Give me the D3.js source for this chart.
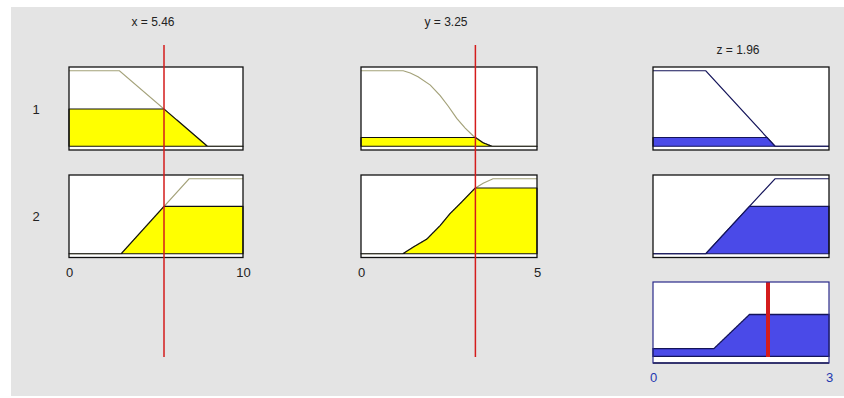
<!DOCTYPE html>
<html>
<head>
<meta charset="utf-8">
<script src="https://cdn.jsdelivr.net/npm/d3@7"></script>
<style>
  html, body { margin: 0; padding: 0; background: #ffffff; }
  svg { display: block; }
  text { font-family: "Liberation Sans", Arial, sans-serif; }
</style>
</head>
<body>
<svg id="viewer" width="844" height="398"></svg>
<script>
// Fuzzy inference rule viewer: two inputs (x, y), one output (z), two rules.

const inputNames = ["x", "y"];
const inputRanges = [[0, 10], [0, 5]];
const inputValues = [5.46, 3.25];
const inputTicks = [[0, 10], [0, 5]];

const outputName = "z";
const outputRange = [0, 3];
const outputValue = 1.96;
const outputTicks = [0, 3];

const ruleLabels = ["1", "2"];

// membership functions as [value, degree] breakpoints
const xMf1 = [[0, 1], [2.9, 1], [7.95, 0], [10, 0]];
const xMf2 = [[0, 0], [3.0, 0], [6.9, 1], [10, 1]];
const yMf1 = [[0, 1], [1.2, 1], [1.4, 0.97], [1.62, 0.92], [1.97, 0.81], [2.25, 0.67],
              [2.48, 0.53], [2.72, 0.37], [2.96, 0.24], [3.19, 0.135], [3.47, 0.045],
              [3.72, 0], [5, 0]];
const yMf2 = [[0, 0], [1.19, 0], [1.49, 0.09], [1.87, 0.195], [2.25, 0.376], [2.53, 0.535],
              [2.82, 0.67], [3.10, 0.806], [3.24, 0.874], [3.47, 0.94], [3.75, 1], [5, 1]];
const zMf1 = [[0, 1], [0.9, 1], [2.08, 0], [3, 0]];
const zMf2 = [[0, 0], [0.9, 0], [2.08, 1], [3, 1]];

// rule table: antecedent MFs per input, consequent MF
const ruleInputs = [[xMf1, yMf1], [xMf2, yMf2]];
const ruleOutputs = [zMf1, zMf2];

const svg = d3.select("#viewer");

const colInputFill = "#ffff00";
const colInputLine = "#a4a27a";
const colOutFill = "#4a4ae8";
const colOutLine = "#14145a";
const colCursor = "#d41c1c";

// panel frame
svg.append("rect").attr("x", 11).attr("y", 7).attr("width", 833).attr("height", 389)
  .attr("fill", "#e4e4e4");

const colX = [
  d3.scaleLinear().domain(inputRanges[0]).range([69, 243]),
  d3.scaleLinear().domain(inputRanges[1]).range([361, 537])
];
const zScale = d3.scaleLinear().domain(outputRange).range([653, 829]);

const rowBoxes = [[67, 150], [175, 257.5]];
const rowScales = rowBoxes.map(b => d3.scaleLinear().domain([-0.05, 1.05]).range([b[1], b[0]]));
const aggBox = [282, 363];
const aggScale = d3.scaleLinear().domain([-0.1, 1.12]).range([aggBox[1], aggBox[0]]);

function interp(mf, v) {
  if (v <= mf[0][0]) return mf[0][1];
  for (let i = 1; i < mf.length; i++) {
    if (v <= mf[i][0]) {
      const [x0, y0] = mf[i - 1], [x1, y1] = mf[i];
      return x1 === x0 ? y1 : y0 + (y1 - y0) * (v - x0) / (x1 - x0);
    }
  }
  return mf[mf.length - 1][1];
}

// sample positions: breakpoints of every MF plus a fine grid across the range
function samplePositions(range, mfs) {
  const s = new Set();
  const n = 600;
  for (let i = 0; i <= n; i++) s.add(range[0] + (range[1] - range[0]) * i / n);
  mfs.forEach(mf => mf.forEach(p => s.add(p[0])));
  return Array.from(s).sort((a, b) => a - b);
}

function areaPath(xs, fn, xScale, yScale) {
  const pts = xs.map(v => [v, fn(v)]);
  const full = [[xs[0], 0], ...pts, [xs[xs.length - 1], 0]];
  return d3.line().x(d => xScale(d[0])).y(d => yScale(d[1]))(full) + "Z";
}

function frame(x0, x1, box) {
  svg.append("rect").attr("x", x0).attr("y", box[0]).attr("width", x1 - x0)
    .attr("height", box[1] - box[0]).attr("fill", "#ffffff");
}
function border(x0, x1, box) {
  svg.append("rect").attr("x", x0).attr("y", box[0]).attr("width", x1 - x0)
    .attr("height", box[1] - box[0]).attr("fill", "none")
    .attr("stroke", "#111111").attr("stroke-width", 1.3);
}

// firing strengths (min of antecedent degrees)
const degrees = ruleInputs.map(mfs => mfs.map((mf, j) => interp(mf, inputValues[j])));
const strengths = degrees.map(d => d3.min(d));

// input panels
ruleInputs.forEach((mfs, r) => {
  mfs.forEach((mf, j) => {
    const xs = colX[j];
    const ys = rowScales[r];
    const [a, b] = xs.range();
    frame(a, b, rowBoxes[r]);
    const level = degrees[r][j];
    const pos = samplePositions(inputRanges[j], [mf]);
    svg.append("path")
      .attr("d", d3.line().x(d => xs(d[0])).y(d => ys(d[1]))(mf))
      .attr("fill", "none").attr("stroke", colInputLine).attr("stroke-width", 1.2);
    svg.append("path")
      .attr("d", areaPath(pos, v => Math.min(interp(mf, v), level), xs, ys))
      .attr("fill", colInputFill).attr("stroke", "#111111").attr("stroke-width", 1.2)
      .attr("stroke-linejoin", "round");
    border(a, b, rowBoxes[r]);
  });
});

// output panels per rule
ruleOutputs.forEach((mf, r) => {
  const ys = rowScales[r];
  const [a, b] = zScale.range();
  frame(a, b, rowBoxes[r]);
  const pos = samplePositions(outputRange, [mf]);
  svg.append("path")
    .attr("d", d3.line().x(d => zScale(d[0])).y(d => ys(d[1]))(mf))
    .attr("fill", "none").attr("stroke", colOutLine).attr("stroke-width", 1.2);
  svg.append("path")
    .attr("d", areaPath(pos, v => Math.min(interp(mf, v), strengths[r]), zScale, ys))
    .attr("fill", colOutFill).attr("stroke", colOutLine).attr("stroke-width", 1.2);
  border(a, b, rowBoxes[r]);
});

// aggregated output
{
  const [a, b] = zScale.range();
  frame(a, b, aggBox);
  const pos = samplePositions(outputRange, ruleOutputs);
  const agg = v => d3.max(ruleOutputs, (mf, r) => Math.min(interp(mf, v), strengths[r]));
  svg.append("path")
    .attr("d", areaPath(pos, agg, zScale, aggScale))
    .attr("fill", colOutFill).attr("stroke", colOutLine).attr("stroke-width", 1.3);
  svg.append("line")
    .attr("x1", zScale(outputValue)).attr("x2", zScale(outputValue))
    .attr("y1", aggBox[0]).attr("y2", aggScale(-0.01))
    .attr("stroke", colCursor).attr("stroke-width", 4);
  svg.append("line")
    .attr("x1", a).attr("x2", b).attr("y1", aggBox[1]).attr("y2", aggBox[1])
    .attr("stroke", "#111111").attr("stroke-width", 1.3);
  svg.append("rect").attr("x", a).attr("y", aggBox[0]).attr("width", b - a)
    .attr("height", aggBox[1] - aggBox[0]).attr("fill", "none")
    .attr("stroke", "#2a2a8a").attr("stroke-width", 1.2);
}

// input cursors
inputValues.forEach((v, j) => {
  svg.append("line")
    .attr("x1", colX[j](v)).attr("x2", colX[j](v))
    .attr("y1", 45).attr("y2", 357)
    .attr("stroke", colCursor).attr("stroke-width", 1.5);
});

// titles
inputNames.forEach((n, j) => {
  const [a, b] = colX[j].range();
  svg.append("text").attr("x", (a + b) / 2 - 3).attr("y", 26)
    .attr("text-anchor", "middle").attr("font-size", 12).attr("fill", "#222")
    .text(`${n} = ${inputValues[j].toFixed(2)}`);
});
{
  const [a, b] = zScale.range();
  svg.append("text").attr("x", (a + b) / 2 - 3).attr("y", 54)
    .attr("text-anchor", "middle").attr("font-size", 12).attr("fill", "#222")
    .text(`${outputName} = ${outputValue.toFixed(2)}`);
}

// rule numbers
ruleLabels.forEach((lab, r) => {
  const ys = rowScales[r];
  svg.append("text").attr("x", 36).attr("y", ys(0.5) + 5)
    .attr("text-anchor", "middle").attr("font-size", 13).attr("fill", "#222")
    .text(lab);
});

// tick labels
inputTicks.forEach((ticks, j) => {
  const ax = d3.axisBottom(colX[j]).tickValues(ticks).tickFormat(d3.format("d"))
    .tickSize(0).tickPadding(0);
  const g = svg.append("g").attr("transform", `translate(0, ${rowBoxes[1][1] + 10})`).call(ax);
  g.select(".domain").remove();
  g.selectAll("text").attr("font-size", 13).attr("fill", "#222")
    .attr("font-family", "Liberation Sans, Arial, sans-serif");
});
{
  const ax = d3.axisBottom(zScale).tickValues(outputTicks).tickFormat(d3.format("d"))
    .tickSize(0).tickPadding(0);
  const g = svg.append("g").attr("transform", `translate(0, ${aggBox[1] + 10})`).call(ax);
  g.select(".domain").remove();
  g.selectAll("text").attr("font-size", 13).attr("fill", "#2438b0")
    .attr("font-family", "Liberation Sans, Arial, sans-serif");
}
</script>
</body>
</html>
